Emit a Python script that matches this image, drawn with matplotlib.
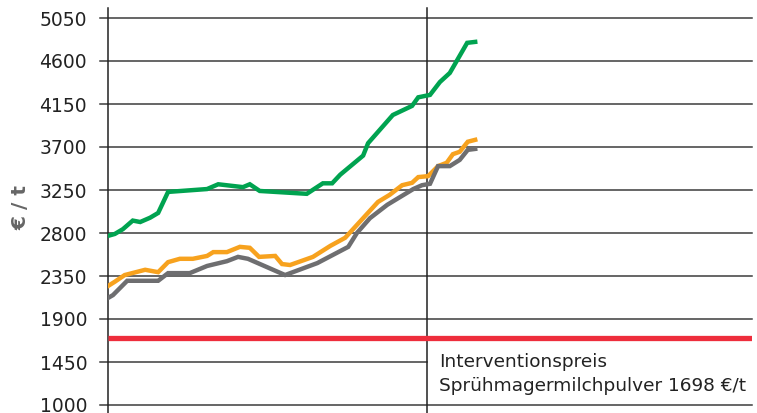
import matplotlib
matplotlib.use("Agg")
import matplotlib.pyplot as plt

# y ticks
yticks = [1000, 1450, 1900, 2350, 2800, 3250, 3700, 4150, 4600, 5050]

# series (x in weeks, y in EUR/t)
green_x = [0, 1.1, 2.4, 4.0, 5.2, 6.8, 8.1, 9.7, 16.0, 17.8, 21.8, 22.9, 24.5, 32.1,
           34.7, 36.2, 37.5, 41.2, 42.0, 46.0, 49.1, 50.1, 52.0, 53.6, 55.2, 58.0, 59.3]
green_y = [2770, 2790, 2840, 2930, 2915, 2960, 3010, 3230, 3260, 3310, 3280, 3310, 3240, 3210,
           3320, 3320, 3410, 3610, 3740, 4035, 4130, 4220, 4245, 4380, 4475, 4790, 4800]

gray_x = [0, 0.8, 3.1, 8.1, 9.7, 13.2, 16.0, 19.2, 21.0, 22.6, 28.6, 33.8, 38.8, 40.2,
          42.3, 45.1, 49.3, 50.7, 52.0, 53.3, 55.2, 56.8, 58.1, 59.3]
gray_y = [2120, 2150, 2300, 2300, 2380, 2380, 2455, 2505, 2550, 2530, 2360, 2485, 2655, 2800,
          2955, 3095, 3260, 3300, 3315, 3500, 3500, 3565, 3670, 3680]

orange_x = [0, 1.1, 2.7, 6.0, 8.1, 9.7, 11.6, 13.7, 16.0, 17.0, 19.2, 21.3, 22.9, 24.4,
            27.0, 28.1, 29.4, 33.1, 35.9, 38.3, 41.2, 43.6, 45.5, 47.5, 49.1, 50.1, 51.7,
            53.3, 54.7, 55.7, 56.8, 58.1, 59.3]
orange_y = [2245, 2290, 2360, 2415, 2390, 2495, 2530, 2530, 2560, 2600, 2600, 2655, 2645, 2550,
            2560, 2475, 2465, 2550, 2665, 2750, 2955, 3125, 3200, 3300, 3325, 3385, 3395,
            3500, 3535, 3625, 3650, 3755, 3775]

intervention_price = 1698
year_break = 51.5
x_max = 104

annot_line1 = "Interventionspreis"
annot_line2 = "Sprühmagermilchpulver 1698 €/t"

W, H = 757, 413
fig = plt.figure(figsize=(W / 100, H / 100), dpi=100)
ax_l, ax_r, ax_t, ax_b = 108, 752, 18, 405
ax = fig.add_axes([ax_l / W, 1 - ax_b / H, (ax_r - ax_l) / W, (ax_b - ax_t) / H])
ax.set_xlim(0, x_max)
ax.set_ylim(1000, 5050)
for s in ax.spines.values():
    s.set_visible(False)

grid_c = "#3c3c3c"
for v in yticks:
    if v == 1450:
        ax.plot([-1.3, year_break], [v, v], color=grid_c, lw=1.1, clip_on=False, zorder=1)
    else:
        ax.plot([-1.3, x_max], [v, v], color=grid_c, lw=1.1, clip_on=False, zorder=1)

ax.axvline(0, ymin=-0.021, ymax=1.026, color="#222222", lw=1.1, clip_on=False, zorder=2)
ax.axvline(year_break, ymin=-0.021, ymax=1.026, color="#222222", lw=1.1, clip_on=False, zorder=2)

ax.axhline(intervention_price, color="#ee2d3c", lw=3.8, zorder=3, solid_capstyle="butt")

ax.plot(green_x, green_y, color="#00a350", lw=3.2, zorder=4, solid_joinstyle="miter")
ax.plot(orange_x, orange_y, color="#f7a21e", lw=3.2, zorder=4, solid_joinstyle="miter")
ax.plot(gray_x, gray_y, color="#6e6e70", lw=3.2, zorder=5, solid_joinstyle="miter")

ax.set_xticks([])
ax.set_yticks(yticks)
ax.set_yticklabels([str(v) for v in yticks], fontsize=13.5, color="#222222")
ax.tick_params(axis="y", length=0, pad=15)
for lbl in ax.get_yticklabels():
    lbl.set_verticalalignment("center_baseline")

ax.set_ylabel("€ / t", fontsize=14.5, fontweight="bold", color="#666666")
ax.yaxis.set_label_coords(-0.121, 0.51)

ax.text(53.4, 1450, annot_line1, fontsize=13.3, color="#222222", va="center", ha="left")
ax.text(53.4, 1195, annot_line2, fontsize=13.3, color="#222222", va="center", ha="left")

fig.savefig("out.png", dpi=100)
